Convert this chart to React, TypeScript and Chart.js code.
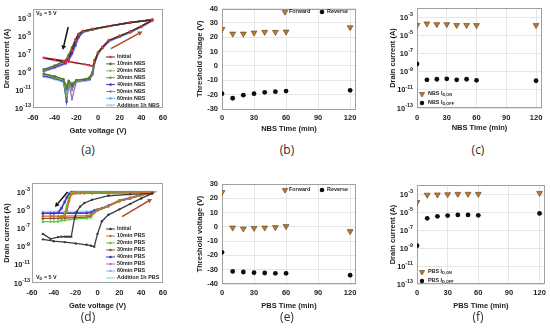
import { useEffect, useRef } from "react";
import { Chart, registerables } from "chart.js";

Chart.register(...registerables);

// ---------------------------------------------------------------- data
// (a) transfer curves under negative bias stress; current values are log10(Id / A)
const A_FWD_VG = [-50, -40, -32, -29, -27, -24, -20, -12, -8, -5, -3, 0, 4, 10, 20, 30, 40, 50];
const A_REV_VG = [50, 30, 10, -5, -14, -18, -21, -24, -27, -30, -40, -50];
const A_INITIAL_FWD = [-7.4, -7.6, -7.75, -7.8, -7.85, -7.9, -8.0, -8.15, -8.25, -8.35, -7.9, -6.9, -6.25, -5.5, -5.0, -4.5, -3.9, -3.25];
const A_INITIAL_REV = [-3.2, -3.5, -3.9, -4.2, -4.45, -4.8, -5.5, -6.6, -7.5, -7.9, -7.7, -7.45];
const A_10MIN_FWD = [-9.2, -9.5, -9.8, -10.9, -10.0, -10.4, -9.9, -9.8, -9.7, -9.0, -7.7, -6.85, -6.25, -5.5, -5.0, -4.5, -3.9, -3.25];
const A_10MIN_REV = [-3.2, -3.5, -3.9, -4.25, -4.45, -4.8, -5.45, -6.3, -7.1, -7.75, -8.3, -8.7];
const A_20MIN_FWD = [-9.3, -9.6, -9.9, -11.6, -10.1, -10.2, -10.0, -9.8, -9.7, -9.1, -7.6, -6.8, -6.2, -5.45, -4.95, -4.5, -3.9, -3.25];
const A_20MIN_REV = [-3.2, -3.5, -3.9, -4.25, -4.45, -4.75, -5.4, -6.25, -7.05, -7.7, -8.3, -8.75];
const A_30MIN_FWD = [-9.2, -9.5, -9.8, -10.5, -10.0, -11.0, -9.9, -9.8, -9.6, -9.0, -7.7, -6.85, -6.25, -5.5, -5.0, -4.5, -3.9, -3.25];
const A_30MIN_REV = [-3.2, -3.5, -3.9, -4.25, -4.5, -4.85, -5.5, -6.35, -7.15, -7.8, -8.35, -8.8];
const A_40MIN_FWD = [-9.4, -9.7, -10.0, -12.3, -10.2, -10.6, -10.0, -9.9, -9.8, -9.2, -7.8, -6.9, -6.3, -5.55, -5.05, -4.55, -3.95, -3.25];
const A_40MIN_REV = [-3.2, -3.5, -3.9, -4.3, -4.55, -5.1, -6.0, -6.9, -7.6, -8.0, -8.45, -8.85];
const A_50MIN_FWD = [-9.4, -9.6, -10.0, -11.4, -10.3, -12.0, -10.1, -9.9, -9.8, -9.2, -7.85, -6.9, -6.3, -5.55, -5.05, -4.55, -3.95, -3.3];
const A_50MIN_REV = [-3.2, -3.5, -3.9, -4.3, -4.55, -5.15, -6.05, -6.95, -7.65, -8.05, -8.5, -8.9];
const A_60MIN_FWD = [-9.5, -9.7, -10.1, -11.0, -10.2, -10.9, -10.0, -9.9, -9.8, -9.3, -7.9, -6.95, -6.35, -5.6, -5.1, -4.6, -4.0, -3.3];
const A_60MIN_REV = [-3.2, -3.5, -3.9, -4.3, -4.6, -5.2, -6.1, -7.0, -7.7, -8.1, -8.5, -8.9];
const A_ADD1H_FWD = [-9.5, -9.8, -10.1, -10.8, -10.3, -10.5, -10.1, -10.0, -9.9, -9.3, -8.0, -7.0, -6.4, -5.6, -5.1, -4.6, -4.0, -3.3];
const A_ADD1H_REV = [-3.2, -3.5, -3.9, -4.3, -4.6, -5.2, -6.15, -7.05, -7.75, -8.1, -8.55, -8.95];
const A_LABELS = ["Initial", "10min NBS", "20min NBS", "30min NBS", "40min NBS", "50min NBS", "60min NBS", "Addition 1h NBS"];

// (d) transfer curves under positive bias stress; log10(Id / A)
const D_FWD_VG = [-50, -40, -30, -20, -10, -6, -3, 0, 4, 10, 20, 30, 40, 50];
const D_REV_VG = [50, 30, 10, -5, -12, -16, -19, -21, -24, -26, -28, -30, -33, -36, -43, -50];
const D_INITIAL_FWD = [-8.2, -8.4, -8.5, -8.65, -8.8, -8.9, -9.0, -7.6, -6.2, -5.5, -4.9, -4.3, -3.7, -3.15];
const D_INITIAL_REV = [-3.15, -3.25, -3.4, -3.85, -4.2, -4.6, -5.15, -5.8, -7.9, -7.9, -7.9, -7.9, -7.9, -7.95, -8.15, -7.6];
const D_10MIN_FWD = [-5.65, -5.65, -5.65, -5.62, -5.6, -5.5, -5.2, -5.0, -4.85, -4.55, -4.0, -3.7, -3.35, -3.05];
const D_10MIN_REV = [-3.05, -3.1, -3.15, -3.15, -3.15, -3.15, -3.15, -3.15, -3.3, -4.0, -5.0, -5.6, -5.65, -5.65, -5.65, -5.65];
const D_20MIN_FWD = [-6.25, -6.25, -6.1, -5.95, -5.9, -5.8, -5.3, -5.05, -4.85, -4.55, -4.0, -3.7, -3.35, -3.05];
const D_20MIN_REV = [-3.0, -3.0, -3.0, -3.0, -3.0, -3.0, -3.0, -3.02, -3.1, -3.5, -4.4, -5.3, -6.1, -6.25, -6.25, -6.25];
const D_30MIN_FWD = [-5.9, -5.9, -5.85, -5.8, -5.75, -5.65, -5.25, -5.0, -4.85, -4.55, -4.0, -3.7, -3.32, -3.02];
const D_30MIN_REV = [-3.0, -3.0, -3.0, -3.0, -3.0, -3.0, -3.0, -3.05, -3.2, -3.7, -4.6, -5.4, -5.85, -5.9, -5.9, -5.9];
const D_40MIN_FWD = [-5.35, -5.35, -5.35, -5.33, -5.3, -5.25, -5.05, -4.95, -4.8, -4.5, -3.95, -3.65, -3.3, -3.0];
const D_40MIN_REV = [-3.0, -3.0, -3.0, -3.0, -3.0, -3.0, -3.0, -3.0, -3.02, -3.2, -3.6, -4.1, -4.8, -5.3, -5.35, -5.35];
const D_50MIN_FWD = [-5.3, -5.3, -5.3, -5.3, -5.28, -5.22, -5.05, -4.95, -4.8, -4.5, -3.95, -3.65, -3.3, -3.0];
const D_50MIN_REV = [-2.98, -2.98, -2.98, -2.98, -2.98, -2.98, -2.98, -2.98, -3.0, -3.15, -3.55, -4.05, -4.75, -5.25, -5.3, -5.3];
const D_60MIN_FWD = [-5.25, -5.25, -5.25, -5.25, -5.22, -5.18, -5.0, -4.92, -4.78, -4.48, -3.95, -3.62, -3.28, -3.0];
const D_60MIN_REV = [-2.98, -2.98, -2.98, -2.98, -2.98, -2.98, -2.98, -2.98, -3.0, -3.12, -3.5, -4.0, -4.7, -5.2, -5.25, -5.25];
const D_ADD1H_FWD = [-5.15, -5.15, -5.15, -5.15, -5.12, -5.1, -4.95, -4.88, -4.75, -4.45, -3.92, -3.6, -3.27, -2.98];
const D_ADD1H_REV = [-2.95, -2.95, -2.95, -2.95, -2.95, -2.95, -2.95, -2.95, -2.97, -3.1, -3.45, -3.95, -4.65, -5.1, -5.15, -5.15];
const D_LABELS = ["Initial", "10min PBS", "20min PBS", "30min PBS", "40min PBS", "50min PBS", "60min PBS", "Addition 1h PBS"];

// (b)(c)(e)(f) parameters vs stress time
const STRESS_TIME = [0, 10, 20, 30, 40, 50, 60, 120];
const B_FORWARD = [25.6, 22.4, 22.4, 23.1, 23.6, 23.6, 23.8, 26.8];
const B_REVERSE = [-19.3, -22.5, -20.4, -19.3, -18.4, -17.9, -17.5, -17.0];
const C_ION = [1.3e-4, 1.9e-4, 1.6e-4, 1.6e-4, 1.3e-4, 1.3e-4, 1.25e-4, 1.25e-4];
const C_IOFF = [6.9e-9, 1.25e-10, 1.45e-10, 1.6e-10, 1.25e-10, 1.45e-10, 1.1e-10, 1.0e-10];
const E_FORWARD = [24.2, -0.6, -1.3, -0.9, -0.6, -0.3, 0.4, -3.1];
const E_REVERSE = [-17.8, -31.2, -31.6, -32.1, -32.3, -32.5, -32.5, -33.8];
const F_ION = [1.2e-4, 8e-4, 8.5e-4, 9e-4, 1e-3, 1e-3, 1e-3, 1.25e-3];
const F_IOFF = [1.8e-9, 2e-6, 3.3e-6, 4e-6, 4.7e-6, 4.7e-6, 4.3e-6, 7e-6];

// ticks
const GATE_TICKS = [-60, -40, -20, 0, 20, 40, 60];
const TIME_TICKS = [0, 30, 60, 90, 120];
const LOG_TICK_EXP = [-13, -11, -9, -7, -5, -3];
const B_VTH_TICKS = [-30, -20, -10, 0, 10, 20, 30, 40];
const E_VTH_TICKS = [-40, -30, -20, -10, 0, 10, 20, 30];

// annotations (data coordinates: Vg, log10 Id)
const A_ARROWS = [
  { from: [-27.5, -4.0], to: [-32.5, -6.55], color: "#111111" },
  { from: [12, -6.4], to: [41, -4.5], color: "#b0442a" },
];
const D_ARROWS = [
  { from: [-27.5, -3.0], to: [-39, -4.65], color: "#111111" },
  { from: [22.5, -5.7], to: [50, -3.75], color: "#b0442a" },
];

// ---------------------------------------------------------------- styles
const FONT = "'Liberation Sans', Arial, Helvetica, sans-serif";
const INK = "#1c1c1c";
const FRAME = "#a0a0a0";
const GRID = "#e6e6e6";
const TICK_PX = 7.5;
const TITLE_PX = 7.5;
const SMALL_PX = 5.4;
const SUB_PX = 3.9;

const A_COLORS = ["#5a2222", "#55703a", "#82c654", "#8e8466", "#3a3ac6", "#9c6cdc", "#6cb2ea", "#c6c6ee"];
const A_POINT_COLORS = ["#ff2a4a", "#55703a", "#82c654", "#8e8466", "#3a3ac6", "#9c6cdc", "#6cb2ea", "#c6c6ee"];
const D_COLORS = ["#3c3c3c", "#cf6e2c", "#62c640", "#8c5a30", "#3a3ac6", "#a878e6", "#80b8f0", "#b2e8e4"];
const FWD_FILL = "#bd7a34";
const FWD_EDGE = "#5e3c14";
const REV_FILL = "#0e0e0e";

type Rect = { l: number; t: number; r: number; b: number };
type Spec = { canvas: Rect; area: Rect; yTitleX: number; xTitleY: number; xLabelPad: number; yLabelPad: number };

const SPEC_A: Spec = { canvas: { l: 0, t: 0, r: 180, b: 140 }, area: { l: 33, t: 9, r: 163, b: 108 }, yTitleX: 7, xTitleY: 131, xLabelPad: 5, yLabelPad: 2 };
const SPEC_B: Spec = { canvas: { l: 180, t: 0, r: 365, b: 140 }, area: { l: 222, t: 7, r: 356, b: 109 }, yTitleX: 200, xTitleY: 129, xLabelPad: 4, yLabelPad: 4 };
const SPEC_C: Spec = { canvas: { l: 365, t: 0, r: 550, b: 140 }, area: { l: 417, t: 8, r: 542, b: 108 }, yTitleX: 393, xTitleY: 128, xLabelPad: 5, yLabelPad: 4 };
const SPEC_D: Spec = { canvas: { l: 0, t: 166, r: 180, b: 316 }, area: { l: 32, t: 183, r: 163, b: 283 }, yTitleX: 7, xTitleY: 306, xLabelPad: 5, yLabelPad: 2 };
const SPEC_E: Spec = { canvas: { l: 180, t: 166, r: 365, b: 316 }, area: { l: 222, t: 184, r: 356, b: 284 }, yTitleX: 200, xTitleY: 306, xLabelPad: 4, yLabelPad: 4 };
const SPEC_F: Spec = { canvas: { l: 365, t: 166, r: 550, b: 316 }, area: { l: 417, t: 185, r: 545, b: 284 }, yTitleX: 393, xTitleY: 306, xLabelPad: 4, yLabelPad: 4 };

const CAPTIONS = [
  { text: "(a)", x: 88, y: 149 },
  { text: "(b)", x: 287, y: 149 },
  { text: "(c)", x: 478, y: 149 },
  { text: "(d)", x: 88, y: 316 },
  { text: "(e)", x: 287, y: 316 },
  { text: "(f)", x: 478, y: 316 },
];

// ---------------------------------------------------------------- helpers
const font = (size: number, weight: any = "bold") => ({ family: FONT, size, weight });
const cssFont = (size: number) => `bold ${size}px ${FONT}`;

function frameGeom(spec: Spec) {
  const lh = TITLE_PX * 1.2;
  const padL = spec.yTitleX - spec.canvas.l - lh / 2;
  return {
    padding: { left: padL, top: spec.area.t - spec.canvas.t, right: spec.canvas.r - spec.area.r, bottom: 0 },
    yWidth: spec.area.l - spec.canvas.l - padL,
    xHeight: spec.canvas.b - spec.area.b,
    xTitlePad: spec.canvas.b - spec.xTitleY - lh / 2,
  };
}

function xAxis(spec: Spec, min: number, max: number, ticks: number[], title: string, grid: boolean) {
  const g = frameGeom(spec);
  return {
    type: "linear",
    min,
    max,
    afterBuildTicks: (s: any) => { s.ticks = ticks.map((v) => ({ value: v })); },
    afterFit: (s: any) => { s.height = g.xHeight; },
    ticks: { font: font(TICK_PX), color: INK, padding: spec.xLabelPad, maxRotation: 0, autoSkip: false },
    grid: { display: grid, color: GRID, drawTicks: false },
    border: { display: false },
    title: { display: true, text: title, font: font(TITLE_PX), color: INK, padding: { top: 0, bottom: g.xTitlePad } },
  };
}

function yLinear(spec: Spec, min: number, max: number, ticks: number[], title: string) {
  const g = frameGeom(spec);
  return {
    type: "linear",
    min,
    max,
    afterBuildTicks: (s: any) => { s.ticks = ticks.map((v) => ({ value: v })); },
    afterFit: (s: any) => { s.width = g.yWidth; },
    ticks: { font: font(TICK_PX), color: INK, padding: spec.yLabelPad },
    grid: { display: true, color: GRID, drawTicks: false },
    border: { display: false },
    title: { display: true, text: title, font: font(TITLE_PX), color: INK, padding: { top: 0, bottom: 0 } },
  };
}

function yLog(spec: Spec, title: string, grid: boolean) {
  const g = frameGeom(spec);
  return {
    type: "logarithmic",
    min: 1e-13,
    max: 1e-2,
    afterBuildTicks: (s: any) => { s.ticks = LOG_TICK_EXP.map((e) => ({ value: Math.pow(10, e) })); },
    afterFit: (s: any) => { s.width = g.yWidth; },
    ticks: { display: false },
    grid: { display: grid, color: GRID, drawTicks: false },
    border: { display: false },
    title: { display: true, text: title, font: font(TITLE_PX), color: INK, padding: { top: 0, bottom: 0 } },
  };
}

function drawFrame(chart: any) {
  const { ctx, chartArea: a } = chart;
  ctx.save();
  ctx.strokeStyle = FRAME;
  ctx.lineWidth = 1;
  ctx.strokeRect(Math.round(a.left) + 0.5, Math.round(a.top) + 0.5, Math.round(a.right - a.left) - 1, Math.round(a.bottom - a.top) - 1);
  ctx.restore();
}

function drawLogLabels(chart: any, spec: Spec) {
  const { ctx, chartArea: a, scales } = chart;
  const right = a.left - spec.yLabelPad;
  ctx.save();
  ctx.fillStyle = INK;
  ctx.textBaseline = "middle";
  ctx.textAlign = "left";
  for (const e of LOG_TICK_EXP) {
    const py = scales.y.getPixelForValue(Math.pow(10, e));
    const sup = String(e);
    ctx.font = cssFont(SMALL_PX);
    const sw = ctx.measureText(sup).width;
    ctx.font = cssFont(TICK_PX);
    const bw = ctx.measureText("10").width;
    ctx.fillText("10", right - sw - bw, py + 0.5);
    ctx.font = cssFont(SMALL_PX);
    ctx.fillText(sup, right - sw, py - 2.6);
  }
  ctx.restore();
}

// text with a subscript part: parts = [[text, isSub], ...]
function drawRich(ctx: CanvasRenderingContext2D, x: number, y: number, parts: [string, boolean][]) {
  let cx = x;
  ctx.textBaseline = "middle";
  ctx.textAlign = "left";
  for (const [t, sub] of parts) {
    ctx.font = cssFont(sub ? SUB_PX : SMALL_PX);
    ctx.fillText(t, cx, sub ? y + 1.4 : y);
    cx += ctx.measureText(t).width;
  }
}

function triangleDown(ctx: CanvasRenderingContext2D, x: number, y: number, r: number) {
  ctx.beginPath();
  ctx.moveTo(x, y + r);
  ctx.lineTo(x - r * 0.866, y - r * 0.5);
  ctx.lineTo(x + r * 0.866, y - r * 0.5);
  ctx.closePath();
  ctx.fillStyle = FWD_FILL;
  ctx.fill();
  ctx.strokeStyle = FWD_EDGE;
  ctx.lineWidth = 0.6;
  ctx.stroke();
}

function dot(ctx: CanvasRenderingContext2D, x: number, y: number, r: number, color: string) {
  ctx.beginPath();
  ctx.arc(x, y, r, 0, Math.PI * 2);
  ctx.fillStyle = color;
  ctx.fill();
}

function drawArrow(ctx: CanvasRenderingContext2D, x0: number, y0: number, x1: number, y1: number, color: string) {
  const ang = Math.atan2(y1 - y0, x1 - x0);
  const hl = 4.5;
  const hw = 2.4;
  const bx = x1 - Math.cos(ang) * hl;
  const by = y1 - Math.sin(ang) * hl;
  ctx.save();
  ctx.strokeStyle = color;
  ctx.fillStyle = color;
  ctx.lineWidth = 1.5;
  ctx.beginPath();
  ctx.moveTo(x0, y0);
  ctx.lineTo(bx, by);
  ctx.stroke();
  ctx.beginPath();
  ctx.moveTo(x1, y1);
  ctx.lineTo(bx + Math.sin(ang) * hw, by - Math.cos(ang) * hw);
  ctx.lineTo(bx - Math.sin(ang) * hw, by + Math.cos(ang) * hw);
  ctx.closePath();
  ctx.fill();
  ctx.restore();
}

function loop(fwdVg: number[], fwd: number[], revVg: number[], rev: number[]) {
  const pts: { x: number; y: number }[] = [];
  fwdVg.forEach((v, i) => pts.push({ x: v, y: Math.pow(10, fwd[i]) }));
  revVg.forEach((v, i) => pts.push({ x: v, y: Math.pow(10, rev[i]) }));
  return pts;
}

function pairs(xs: number[], ys: number[]) {
  return xs.map((x, i) => ({ x, y: ys[i] }));
}

// ---------------------------------------------------------------- configs
function transferConfig(
  spec: Spec,
  fwdVg: number[],
  revVg: number[],
  series: [number[], number[]][],
  labels: string[],
  colors: string[],
  pointColors: string[],
  arrows: { from: number[]; to: number[]; color: string }[],
  legendTop: number,
  legendStep: number,
  vd: { x: number; y: number },
) {
  const g = frameGeom(spec);
  const datasets = series.map(([f, r], i) => ({
    label: labels[i],
    data: loop(fwdVg, f, revVg, r),
    showLine: true,
    borderColor: colors[i],
    backgroundColor: pointColors[i],
    pointBackgroundColor: pointColors[i],
    pointBorderWidth: 0,
    pointRadius: 1.2,
    borderWidth: i === series.length - 1 ? 2 : 1.3,
    tension: 0,
  }));
  const ox = spec.canvas.l;
  const oy = spec.canvas.t;
  return {
    type: "scatter",
    data: { datasets },
    options: {
      responsive: false,
      animation: false,
      devicePixelRatio: 1,
      layout: { padding: g.padding },
      plugins: { legend: { display: false }, tooltip: { enabled: false } },
      scales: {
        x: xAxis(spec, -60, 60, GATE_TICKS, "Gate voltage (V)", false),
        y: yLog(spec, "Drain current (A)", false),
      },
    },
    plugins: [
      {
        id: "transferDecor",
        beforeDatasetsDraw: (chart: any) => drawFrame(chart),
        afterDatasetsDraw: (chart: any) => {
          const { ctx, scales } = chart;
          for (const a of arrows) {
            drawArrow(
              ctx,
              scales.x.getPixelForValue(a.from[0]),
              scales.y.getPixelForValue(Math.pow(10, a.from[1])),
              scales.x.getPixelForValue(a.to[0]),
              scales.y.getPixelForValue(Math.pow(10, a.to[1])),
              a.color,
            );
          }
        },
        afterDraw: (chart: any) => {
          const { ctx } = chart;
          drawLogLabels(chart, spec);
          ctx.save();
          labels.forEach((lab, i) => {
            const y = legendTop - oy + i * legendStep;
            ctx.strokeStyle = colors[i];
            ctx.lineWidth = i === labels.length - 1 ? 1.8 : 1;
            ctx.beginPath();
            ctx.moveTo(106 - ox, y);
            ctx.lineTo(115 - ox, y);
            ctx.stroke();
            dot(ctx, 110.5 - ox, y, 1.3, pointColors[i]);
            ctx.fillStyle = INK;
            ctx.font = cssFont(SMALL_PX);
            ctx.textBaseline = "middle";
            ctx.textAlign = "left";
            ctx.fillText(lab, 117 - ox, y);
          });
          ctx.fillStyle = INK;
          drawRich(ctx, vd.x - ox, vd.y - oy, [["V", false], ["D", true], [" = 5 V", false]]);
          ctx.restore();
        },
      },
    ],
  };
}

function vthConfig(spec: Spec, fwd: number[], rev: number[], yMin: number, yMax: number, yTicks: number[], xTitle: string, legendY: number) {
  const g = frameGeom(spec);
  const ox = spec.canvas.l;
  const oy = spec.canvas.t;
  return {
    type: "scatter",
    data: {
      datasets: [
        { label: "Forward", data: pairs(STRESS_TIME, fwd), pointStyle: "triangle", rotation: 180, pointRadius: 3.4, backgroundColor: FWD_FILL, borderColor: FWD_EDGE, borderWidth: 0.6 },
        { label: "Reverse", data: pairs(STRESS_TIME, rev), pointStyle: "circle", pointRadius: 2.4, backgroundColor: REV_FILL, borderColor: REV_FILL, borderWidth: 0 },
      ],
    },
    options: {
      responsive: false,
      animation: false,
      devicePixelRatio: 1,
      layout: { padding: g.padding },
      plugins: { legend: { display: false }, tooltip: { enabled: false } },
      scales: {
        x: xAxis(spec, 0, 125.5, TIME_TICKS, xTitle, true),
        y: yLinear(spec, yMin, yMax, yTicks, "Threshold voltage (V)"),
      },
    },
    plugins: [
      {
        id: "vthDecor",
        beforeDatasetsDraw: (chart: any) => drawFrame(chart),
        afterDraw: (chart: any) => {
          const { ctx } = chart;
          ctx.save();
          const y = legendY - oy;
          triangleDown(ctx, 285 - ox, y, 3.2);
          ctx.fillStyle = INK;
          drawRich(ctx, 289 - ox, y, [["Forward", false]]);
          dot(ctx, 322 - ox, y, 2.3, REV_FILL);
          ctx.fillStyle = INK;
          drawRich(ctx, 327 - ox, y, [["Reverse", false]]);
          ctx.restore();
        },
      },
    ],
  };
}

function currentConfig(spec: Spec, ion: number[], ioff: number[], xMax: number, xTitle: string, prefix: string, legendY: number) {
  const g = frameGeom(spec);
  const ox = spec.canvas.l;
  const oy = spec.canvas.t;
  return {
    type: "scatter",
    data: {
      datasets: [
        { label: prefix + " ID,ON", data: pairs(STRESS_TIME, ion), pointStyle: "triangle", rotation: 180, pointRadius: 3.4, backgroundColor: FWD_FILL, borderColor: FWD_EDGE, borderWidth: 0.6 },
        { label: prefix + " ID,OFF", data: pairs(STRESS_TIME, ioff), pointStyle: "circle", pointRadius: 2.4, backgroundColor: REV_FILL, borderColor: REV_FILL, borderWidth: 0 },
      ],
    },
    options: {
      responsive: false,
      animation: false,
      devicePixelRatio: 1,
      layout: { padding: g.padding },
      plugins: { legend: { display: false }, tooltip: { enabled: false } },
      scales: {
        x: xAxis(spec, 0, xMax, TIME_TICKS, xTitle, true),
        y: yLog(spec, "Drain current (A)", true),
      },
    },
    plugins: [
      {
        id: "currentDecor",
        beforeDatasetsDraw: (chart: any) => drawFrame(chart),
        afterDraw: (chart: any) => {
          const { ctx } = chart;
          drawLogLabels(chart, spec);
          ctx.save();
          const y0 = legendY - oy;
          triangleDown(ctx, 422 - ox, y0, 3.0);
          ctx.fillStyle = INK;
          drawRich(ctx, 428 - ox, y0, [[prefix + " I", false], ["D,ON", true]]);
          dot(ctx, 422 - ox, y0 + 9, 2.2, REV_FILL);
          ctx.fillStyle = INK;
          drawRich(ctx, 428 - ox, y0 + 9, [[prefix + " I", false], ["D,OFF", true]]);
          ctx.restore();
        },
      },
    ],
  };
}

// ---------------------------------------------------------------- components
function Panel({ spec, build }: { spec: Spec; build: () => any }) {
  const ref = useRef<HTMLCanvasElement>(null);
  useEffect(() => {
    const chart = new Chart(ref.current as HTMLCanvasElement, build());
    return () => chart.destroy();
  }, []);
  const w = spec.canvas.r - spec.canvas.l;
  const h = spec.canvas.b - spec.canvas.t;
  return (
    <canvas
      ref={ref}
      width={w}
      height={h}
      style={{ position: "absolute", left: spec.canvas.l, top: spec.canvas.t, width: w, height: h }}
    />
  );
}

export default function App() {
  const aSeries: [number[], number[]][] = [
    [A_INITIAL_FWD, A_INITIAL_REV],
    [A_10MIN_FWD, A_10MIN_REV],
    [A_20MIN_FWD, A_20MIN_REV],
    [A_30MIN_FWD, A_30MIN_REV],
    [A_40MIN_FWD, A_40MIN_REV],
    [A_50MIN_FWD, A_50MIN_REV],
    [A_60MIN_FWD, A_60MIN_REV],
    [A_ADD1H_FWD, A_ADD1H_REV],
  ];
  const dSeries: [number[], number[]][] = [
    [D_INITIAL_FWD, D_INITIAL_REV],
    [D_10MIN_FWD, D_10MIN_REV],
    [D_20MIN_FWD, D_20MIN_REV],
    [D_30MIN_FWD, D_30MIN_REV],
    [D_40MIN_FWD, D_40MIN_REV],
    [D_50MIN_FWD, D_50MIN_REV],
    [D_60MIN_FWD, D_60MIN_REV],
    [D_ADD1H_FWD, D_ADD1H_REV],
  ];
  return (
    <div style={{ position: "absolute", left: 0, top: 0, width: 550, height: 332, background: "#ffffff", overflow: "hidden" }}>
      <Panel spec={SPEC_A} build={() => transferConfig(SPEC_A, A_FWD_VG, A_REV_VG, aSeries, A_LABELS, A_COLORS, A_POINT_COLORS, A_ARROWS, 57, 6.9, { x: 36, y: 14 })} />
      <Panel spec={SPEC_B} build={() => vthConfig(SPEC_B, B_FORWARD, B_REVERSE, -30, 40, B_VTH_TICKS, "NBS Time (min)", 12)} />
      <Panel spec={SPEC_C} build={() => currentConfig(SPEC_C, C_ION, C_IOFF, 126, "NBS Time (min)", "NBS", 94)} />
      <Panel spec={SPEC_D} build={() => transferConfig(SPEC_D, D_FWD_VG, D_REV_VG, dSeries, D_LABELS, D_COLORS, D_COLORS, D_ARROWS, 229, 7, { x: 36, y: 278 })} />
      <Panel spec={SPEC_E} build={() => vthConfig(SPEC_E, E_FORWARD, E_REVERSE, -40, 30, E_VTH_TICKS, "PBS Time (min)", 190)} />
      <Panel spec={SPEC_F} build={() => currentConfig(SPEC_F, F_ION, F_IOFF, 125, "PBS Time (min)", "PBS", 272)} />
      {CAPTIONS.map((c) => (
        <div
          key={c.text}
          style={{
            position: "absolute",
            left: c.x,
            top: c.y,
            transform: "translate(-50%, -50%)",
            fontFamily: "'Open Sans', 'Liberation Sans', Arial, sans-serif",
            fontSize: 12,
            color: "#2e2e2e",
            lineHeight: "13px",
            whiteSpace: "nowrap",
          }}
        >
          {c.text}
        </div>
      ))}
    </div>
  );
}
